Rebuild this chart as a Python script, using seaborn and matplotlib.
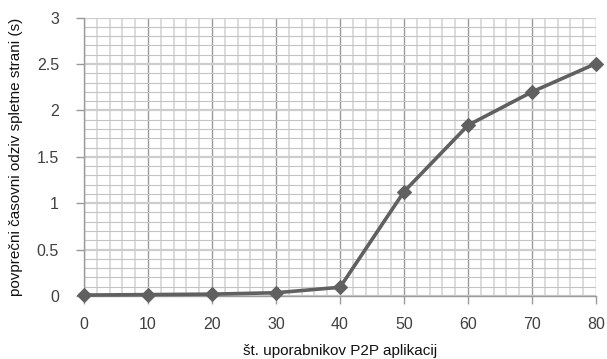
import matplotlib
matplotlib.use("Agg")
import matplotlib.pyplot as plt
import seaborn as sns
import pandas as pd
import numpy as np
from matplotlib.ticker import MultipleLocator

users = [0, 10, 20, 30, 40, 50, 60, 70, 80]
response = [0.01, 0.015, 0.02, 0.035, 0.094, 1.125, 1.84, 2.2, 2.505]

df = pd.DataFrame({"users": users, "response": response})

sns.set_theme(style="white")
plt.rcParams['font.family'] = ['Liberation Sans', 'DejaVu Sans']

fig = plt.figure(figsize=(6.07, 3.59), dpi=100)
ax = fig.add_axes([0.1384, 0.1755, 0.982 - 0.1384, 0.951 - 0.1755])

ax.set_xlim(0, 80)
ax.set_ylim(0, 3)
ax.xaxis.set_major_locator(MultipleLocator(10))
ax.xaxis.set_minor_locator(MultipleLocator(2))
ax.yaxis.set_major_locator(MultipleLocator(0.5))
ax.yaxis.set_minor_locator(MultipleLocator(0.1))

ax.grid(which='minor', axis='x', color='#dcdcdc', linewidth=1.4)
ax.grid(which='minor', axis='y', color='#c4c4c4', linewidth=0.8)
ax.grid(which='major', axis='x', color='#9a9a9a', linewidth=1.0)
ax.grid(which='major', axis='y', color='#cdcdcd', linewidth=1.6)
ax.set_axisbelow(True)

for s in ['top', 'right']:
    ax.spines[s].set_visible(False)
ax.spines['left'].set_color('#9a9a9a')
ax.spines['bottom'].set_color('#9a9a9a')
ax.spines['left'].set_linewidth(1.0)
ax.spines['bottom'].set_linewidth(1.0)

sns.lineplot(data=df, x="users", y="response", ax=ax, color='#606060',
             linewidth=2.6, marker='D', markersize=7, markeredgecolor='#606060',
             clip_on=False, zorder=5)

ax.tick_params(axis='both', which='major', length=6, width=1, color='#9a9a9a',
               labelsize=11.5, labelcolor='#404040', direction='out',
               bottom=True, left=True)
ax.tick_params(axis='both', which='minor', length=0)
ax.tick_params(axis='x', pad=9)
ax.tick_params(axis='y', pad=12)

ax.set_yticks([0, 0.5, 1, 1.5, 2, 2.5, 3])
ax.set_yticklabels(['0', '0.5', '1', '1.5', '2', '2.5', '3'])

ax.set_xlabel("št. uporabnikov P2P aplikacij", fontsize=11, color='#111111', labelpad=9)
ax.set_ylabel("povprečni časovni odziv spletne strani (s)", fontsize=11, color='#111111', labelpad=10)

fig.savefig("out.png", dpi=100)
